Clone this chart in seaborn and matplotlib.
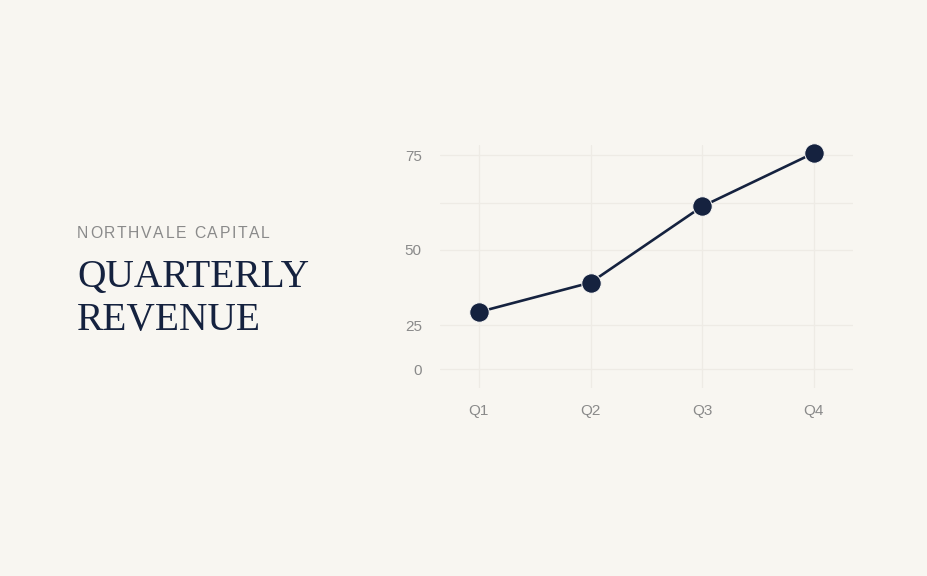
import numpy as np
import pandas as pd
import matplotlib
matplotlib.use('Agg')
import matplotlib.pyplot as plt
from matplotlib.font_manager import FontProperties
import seaborn as sns

# dados
quarters = ['Q1', 'Q2', 'Q3', 'Q4']
revenue = [30, 40, 62, 75.5]
y_ticks = [0, 25, 50, 75]
y_minor = [63]

company = 'NORTHVALE CAPITAL'
title_lines = ['QUARTERLY', 'REVENUE']

BG = '#f8f6f1'
NAVY = '#15223f'
GRID = '#eeebe5'
GREY = '#8a8a8a'

df = pd.DataFrame({'quarter': quarters, 'revenue': revenue})

sns.set_theme(style='white')
plt.rcParams['font.family'] = ['Liberation Sans', 'DejaVu Sans']

fig = plt.figure(figsize=(9.28, 5.76), dpi=100, facecolor=BG)
ax = fig.add_axes([0.474, 0.326, 0.445, 0.422])
ax.set_facecolor(BG)

# escala de potencia (o eixo do original nao e linear)
P = 1.44
def fwd(v):
    v = np.asarray(v, dtype=float)
    return np.sign(v) * np.abs(v) ** P
def inv(v):
    v = np.asarray(v, dtype=float)
    return np.sign(v) * np.abs(v) ** (1 / P)
ax.set_yscale('function', functions=(fwd, inv))

sns.lineplot(data=df, x='quarter', y='revenue', ax=ax, color=NAVY, linewidth=1.9,
             marker='o', markersize=14, markeredgecolor='#fbfaf7', markeredgewidth=0.7,
             clip_on=False, zorder=5)

ax.set_xlim(-0.35, 3.35)
ax.set_ylim(-13.95, 77.4)
ax.set_yticks(y_ticks)
ax.set_yticklabels([str(t) for t in y_ticks])
ax.set_yticks(y_minor, minor=True)
ax.grid(True, which='both', color=GRID, linewidth=0.9)
ax.set_xlabel('')
ax.set_ylabel('')
ax.tick_params(axis='both', which='both', length=0, labelsize=11, labelcolor=GREY)
ax.tick_params(axis='y', pad=13)
ax.tick_params(axis='x', pad=11)
for s in ax.spines.values():
    s.set_visible(False)

# texto da esquerda, com espacamento entre letras
renderer = fig.canvas.get_renderer()
fp = FontProperties(family='Liberation Sans', size=11.3)
bar_w = renderer.get_text_width_height_descent('|', fp, ismath=False)[0]
def char_w(ch):
    return renderer.get_text_width_height_descent(ch + '|', fp, ismath=False)[0] - bar_w

x = 77
y0 = 576 - 238
spacing = 1.7
for ch in company:
    fig.text(x / 928, y0 / 576, ch, fontproperties=fp,
             color=GREY, ha='left', va='baseline')
    x += char_w(ch) + spacing

fig.text(77 / 928, (576 - 287) / 576, title_lines[0], family='Liberation Serif',
         size=28.4, color=NAVY, ha='left', va='baseline')
fig.text(77 / 928, (576 - 330) / 576, title_lines[1], family='Liberation Serif',
         size=28.4, color=NAVY, ha='left', va='baseline')

fig.savefig('out.png', dpi=100, facecolor=BG)
